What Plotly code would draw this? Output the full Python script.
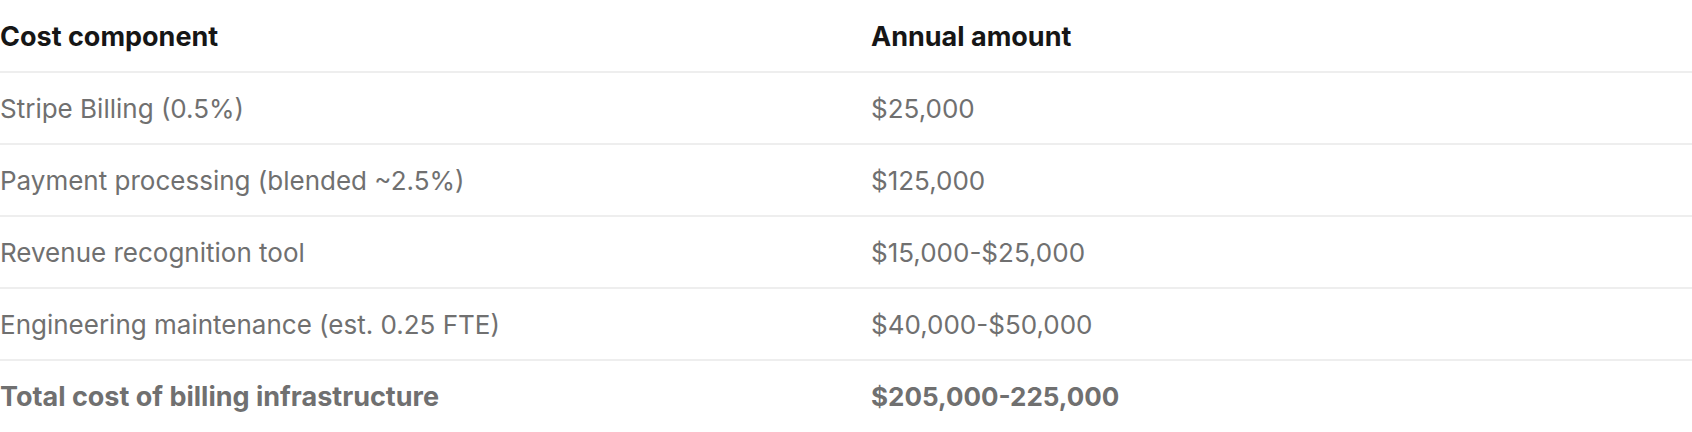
import plotly.graph_objects as go

# 表格内容
header = ["Cost component", "Annual amount"]
components = [
    "Stripe Billing (0.5%)",
    "Payment processing (blended ~2.5%)",
    "Revenue recognition tool",
    "Engineering maintenance (est. 0.25 FTE)",
    "Total cost of billing infrastructure",
]
amounts = [
    "$25,000",
    "$125,000",
    "$15,000-$25,000",
    "$40,000-$50,000",
    "$205,000-225,000",
]

W, H = 1692, 432
col_x = [0, 871]
font_name = "Inter"

# 第0行是表头, 1..5 是数据行
n_rows = len(components) + 1
rows = list(range(1, n_rows))
last = len(components) - 1
row_h = H / n_rows
# 文字相对行中心往下挪一点 (单位: 行)
d = 3.5 / row_h

def label(s, bold):
    return "<b>%s</b>" % s if bold else s

col1 = [label(s, i == last) for i, s in enumerate(components)]
col2 = [label(s, i == last) for i, s in enumerate(amounts)]
# 粗体字母略宽一点
size1 = [27 if i == last else 26 for i in range(len(components))]
size2 = [26] * len(amounts)

fig = go.Figure()

# 表头
fig.add_trace(go.Scatter(
    x=col_x, y=[0, 0],
    text=["<b>%s</b>" % h for h in header],
    mode="text", textposition="middle right",
    textfont=dict(family=font_name, size=27, color="#161616"),
    hoverinfo="skip", cliponaxis=False, showlegend=False,
))

# 两列数据
for x0, txt, sz in zip(col_x, [col1, col2], [size1, size2]):
    fig.add_trace(go.Scatter(
        x=[x0] * len(txt), y=rows,
        text=txt,
        mode="text", textposition="middle right",
        textfont=dict(family=font_name, size=sz, color="#707070"),
        hoverinfo="skip", cliponaxis=False, showlegend=False,
    ))

# 行之间的分隔线
for r in range(n_rows - 1):
    fig.add_shape(
        type="line", xref="x", yref="y",
        x0=0, x1=W, y0=r + 0.5 - d, y1=r + 0.5 - d,
        line=dict(color="#e8e8e8", width=1.6),
    )

fig.update_layout(
    width=W, height=H,
    margin=dict(l=0, r=0, t=0, b=0),
    paper_bgcolor="white", plot_bgcolor="white",
    xaxis=dict(range=[0, W], visible=False, fixedrange=True),
    yaxis=dict(range=[n_rows - 0.5 - d, -0.5 - d], visible=False, fixedrange=True),
)

# 去掉浏览器默认的 body 边距
fig.write_html("out.html", config={"displayModeBar": False},
               post_script="document.body.style.margin='0';")
